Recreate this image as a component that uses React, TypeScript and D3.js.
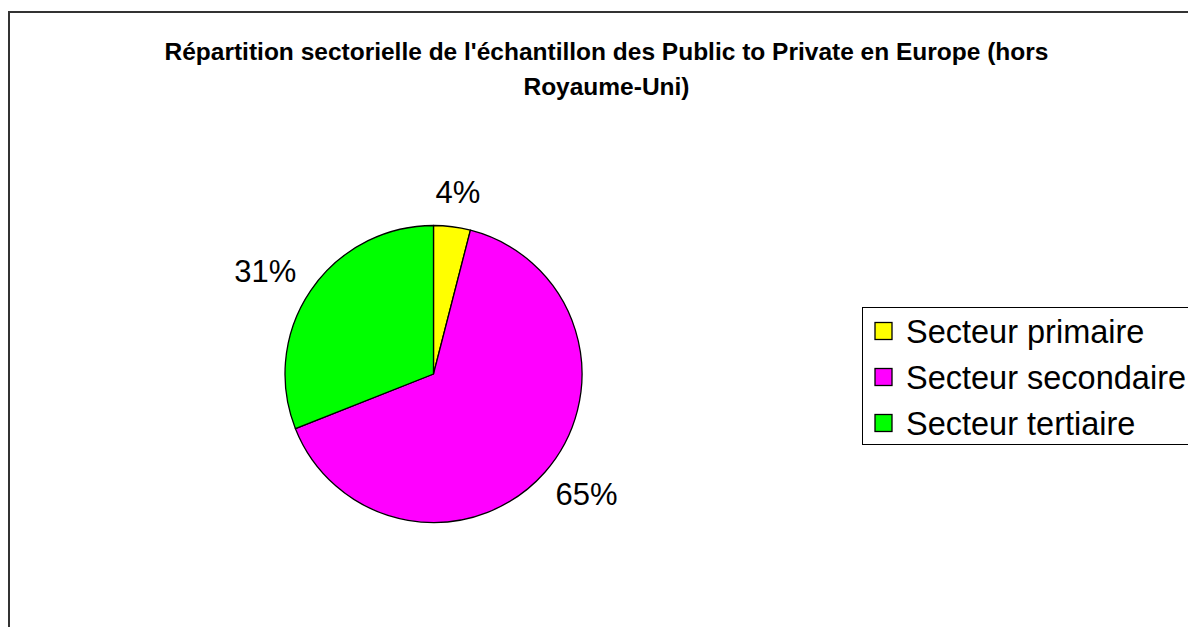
import React from "react";
import * as d3 from "d3";

// data
const categories = ["Secteur primaire", "Secteur secondaire", "Secteur tertiaire"];
const shares = [4, 65, 31];
const sliceColors = ["#ffff00", "#ff00ff", "#00ff00"];
const titleLines = [
  "Répartition sectorielle de l'échantillon des Public to Private en Europe (hors",
  "Royaume-Uni)",
];

const W = 1188;
const H = 627;
const cx = 433.5;
const cy = 374;
const radius = 148.5;
const font = "Arial, 'Liberation Sans', sans-serif";

const App = () => {
  const pie = d3.pie<number>().sort(null).value(d => d);
  const arcs = pie(shares);
  const arc = d3.arc<d3.PieArcDatum<number>>().innerRadius(0).outerRadius(radius);

  // label box sits a fixed gap outside the pie, pushed out along its angle
  const gap = 23;
  const labelW = [46, 65, 64];
  const labelH = 22;
  const labels = arcs.map((a, i) => {
    const mid = (a.startAngle + a.endAngle) / 2;
    const s = Math.sin(mid), c = Math.cos(mid);
    const px = (radius + gap) * s;
    const py = -(radius + gap) * c;
    return { x: px + s * labelW[i] / 2, y: py - c * labelH / 2, text: `${a.data}%` };
  });

  const legendY = d3.scalePoint<string>().domain(categories).range([331, 423]);

  return (
    <svg width={W} height={H} style={{ position: "absolute", left: 0, top: 0, background: "#fff" }}>
      <rect x={9} y={12} width={W + 20} height={H + 20} fill="#fff" stroke="#333" strokeWidth={2} />

      <g fontFamily={font} fontWeight="bold" fontSize={24.5} textAnchor="middle" fill="#000">
        {titleLines.map((t, i) => (
          <text key={i} x={606.5} y={60 + i * 35}>{t}</text>
        ))}
      </g>

      <g transform={`translate(${cx},${cy})`}>
        {arcs.map((a, i) => (
          <path key={i} d={arc(a) || ""} fill={sliceColors[i]} stroke="#000" strokeWidth={1.3} strokeLinejoin="round" />
        ))}
        {labels.map((l, i) => (
          <text key={i} x={l.x} y={l.y} fontFamily={font} fontSize={31} textAnchor="middle" dominantBaseline="central" fill="#000">
            {l.text}
          </text>
        ))}
      </g>

      <g>
        <rect x={862.5} y={307.5} width={W} height={137} fill="#fff" stroke="#000" strokeWidth={1} />
        {categories.map((c, i) => (
          <g key={c} transform={`translate(875,${legendY(c)})`}>
            <rect x={0} y={-8.5} width={17} height={17} fill={sliceColors[i]} stroke="#000" strokeWidth={1.3} />
            <text x={31} y={0} dy="0.36em" fontFamily={font} fontSize={32.5} fill="#000">{c}</text>
          </g>
        ))}
      </g>
    </svg>
  );
};

export default App;
